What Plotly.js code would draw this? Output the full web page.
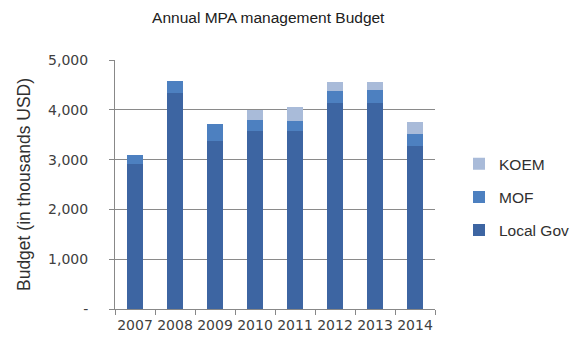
<!DOCTYPE html>
<html>
<head>
<meta charset="utf-8">
<script src="https://cdn.plot.ly/plotly-3.0.1.min.js"></script>
<style>html,body{margin:0;padding:0;background:#fff;}#chart{width:587px;height:347px;}</style>
</head>
<body>
<div id="chart"></div>
<script>
const years = ['2007','2008','2009','2010','2011','2012','2013','2014'];
const localGov = [2910, 4330, 3380, 3580, 3580, 4130, 4130, 3280];
const mof = [180, 250, 330, 225, 205, 250, 265, 225];
const koem = [0, 0, 0, 190, 275, 170, 155, 255];
const yTickVals = [0, 1000, 2000, 3000, 4000, 5000];
const yTickText = ['-', '1,000', '2,000', '3,000', '4,000', '5,000'];

const traces = [
  {type:'bar', name:'Local Gov', x:years, y:localGov, marker:{color:'#3d65a2'}, legendgroup:'a', legendrank:3},
  {type:'bar', name:'MOF', x:years, y:mof, marker:{color:'#4d80c0'}, legendgroup:'b', legendrank:2},
  {type:'bar', name:'KOEM', x:years, y:koem, marker:{color:'#a9bbd9'}, legendgroup:'c', legendrank:1}
];

const layout = {
  width:587, height:347,
  margin:{l:115, r:131, t:60, b:38},
  paper_bgcolor:'#fff', plot_bgcolor:'#fff',
  font:{family:'Liberation Sans, Arial, sans-serif', color:'#404040', size:13},
  title:{text:'Annual MPA management Budget', x:0.457, xanchor:'center', y:0.95, yanchor:'middle', font:{size:15.5, color:'#202020'}},
  barmode:'stack', bargap:0.58,
  showlegend:true,
  legend:{x:1.075, y:0.65, xanchor:'left', yanchor:'top', traceorder:'grouped', tracegroupgap:10, font:{size:15.5, color:'#303030'}, itemwidth:30},
  xaxis:{type:'category', showline:true, linecolor:'#888', linewidth:1, ticks:'outside', tickson:'boundaries', ticklen:5, tickcolor:'#888', showgrid:false, tickangle:0, ticklabelstandoff:3, tickfont:{family:'DejaVu Sans, sans-serif', size:14, color:'#404040'}},
  yaxis:{range:[0,5000], tickvals:yTickVals, ticktext:yTickText, showline:true, linecolor:'#888', linewidth:1, ticks:'outside', ticklen:5, tickcolor:'#888', showgrid:true, gridcolor:'#8a8a8a', gridwidth:1, zeroline:false, ticklabelstandoff:18, tickfont:{family:'DejaVu Sans, sans-serif', size:14, color:'#404040'},
    title:{text:'Budget (in thousands USD)', standoff:12, font:{size:17.5, color:'#303030'}}}
};

Plotly.newPlot('chart', traces, layout, {displayModeBar:false, staticPlot:true});
</script>
</body>
</html>
